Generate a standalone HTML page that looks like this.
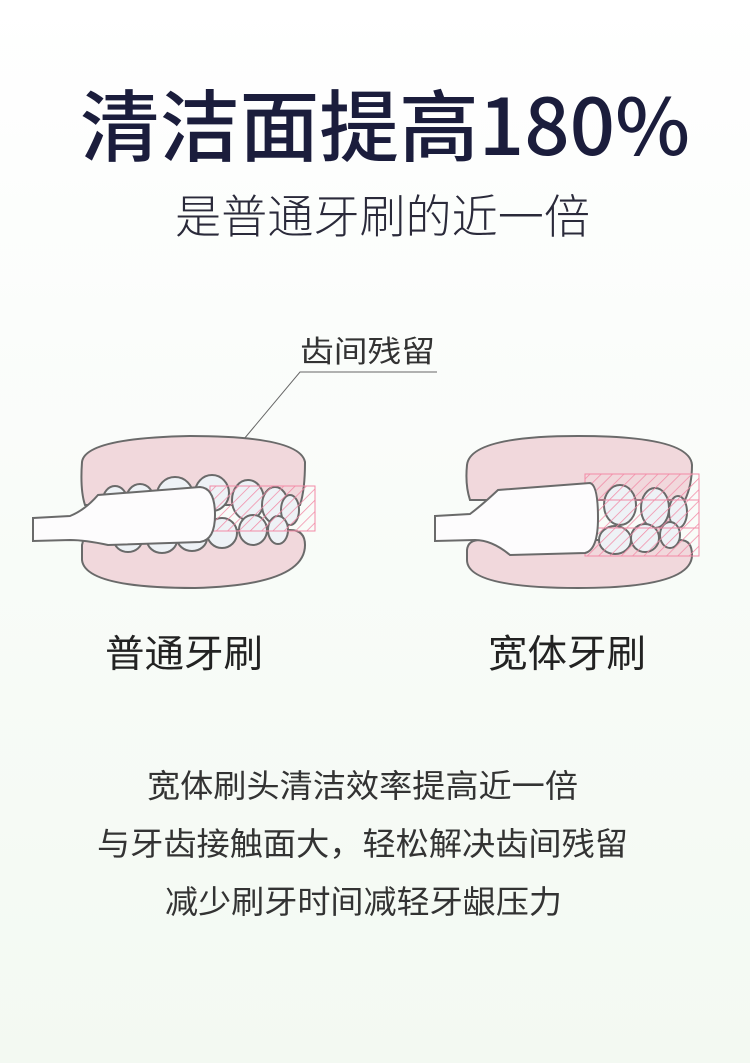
<!DOCTYPE html>
<html><head><meta charset="utf-8"><style>
html,body{margin:0;padding:0;}
body{width:750px;height:1063px;overflow:hidden;background:linear-gradient(#ffffff 0%,#fbfdfb 30%,#f3f9f2 100%);}
svg{display:block}
text{font-family:"Liberation Sans","Noto Sans CJK SC",sans-serif;}
</style></head><body>
<svg width="750" height="1063" viewBox="0 0 750 1063" xmlns="http://www.w3.org/2000/svg">
<defs>
<pattern id="h" width="8" height="8" patternUnits="userSpaceOnUse" patternTransform="rotate(45)">
<line x1="0" y1="0" x2="0" y2="8" stroke="#f28aa6" stroke-width="1.5"/>
</pattern>
</defs>
<text x="80" y="155" font-size="78" font-weight="500" fill="#1b1d3c" textLength="610" lengthAdjust="spacingAndGlyphs" style="font-family:'Noto Sans CJK SC',sans-serif">清洁面提高180%</text>
<text x="175" y="233" font-size="46" fill="#2a2a3a" textLength="415" lengthAdjust="spacingAndGlyphs" style="font-family:'Noto Sans CJK SC',sans-serif;font-weight:300">是普通牙刷的近一倍</text>

<text x="300" y="362" font-size="30" fill="#333" textLength="135" lengthAdjust="spacingAndGlyphs">齿间残留</text>
<polyline points="437,372 300,372 208,482" fill="none" stroke="#666" stroke-width="1"/>

<g stroke="#6a6a6a" stroke-width="2">
<path d="M82,462 Q85,438 190,436 Q300,436 305,462 Q305,490 300,505 L85,505 Q80,490 82,462Z" fill="#f1d8dc"/>
<path d="M82,545 Q85,530 100,530 L290,530 Q305,530 305,545 Q305,585 195,588 Q85,588 82,560Z" fill="#f1d8dc"/>
<g fill="#eef2f6">
<ellipse cx="115" cy="500" rx="12" ry="14"/><ellipse cx="140" cy="500" rx="14" ry="16"/>
<ellipse cx="175" cy="495" rx="18" ry="18"/><ellipse cx="212" cy="493" rx="17" ry="18"/>
<ellipse cx="248" cy="500" rx="16" ry="20"/><ellipse cx="275" cy="505" rx="13" ry="18"/>
<ellipse cx="290" cy="510" rx="9" ry="15"/>
<ellipse cx="128" cy="540" rx="14" ry="12"/><ellipse cx="162" cy="540" rx="15" ry="13"/>
<ellipse cx="192" cy="538" rx="15" ry="13"/><ellipse cx="222" cy="533" rx="15" ry="15"/>
<ellipse cx="253" cy="530" rx="14" ry="15"/><ellipse cx="278" cy="530" rx="10" ry="14"/>
</g>
</g>
<rect x="210" y="486" width="105" height="45" fill="url(#h)" stroke="#f28aa6" stroke-width="1"/>
<path d="M33,518 L70,516 Q85,510 98,495 L200,487 Q215,488 215,515 Q215,540 200,542 L108,545 Q85,540 70,540 L33,541Z" fill="#fdfcfd" stroke="#6a6a6a" stroke-width="2"/>

<g stroke="#6a6a6a" stroke-width="2">
<path d="M467,465 Q470,436 578,436 Q690,436 692,465 Q692,485 685,500 L470,500 Q465,485 467,465Z" fill="#f1d8dc"/>
<path d="M467,550 Q468,540 480,540 L680,540 Q692,540 692,555 Q692,588 578,588 Q467,588 467,560Z" fill="#f1d8dc"/>
<g fill="#eef2f6">
<ellipse cx="620" cy="505" rx="16" ry="20"/><ellipse cx="655" cy="508" rx="14" ry="20"/>
<ellipse cx="678" cy="512" rx="9" ry="16"/>
<ellipse cx="615" cy="540" rx="16" ry="14"/><ellipse cx="645" cy="538" rx="14" ry="14"/><ellipse cx="670" cy="535" rx="10" ry="13"/>
</g>
</g>
<rect x="585" y="474" width="114" height="82" fill="url(#h)" stroke="#f28aa6" stroke-width="1"/>
<line x1="585" y1="500" x2="699" y2="500" stroke="#f28aa6"/><line x1="585" y1="528" x2="699" y2="528" stroke="#f28aa6"/>
<path d="M435,516 L470,514 Q482,505 498,490 L590,483 Q598,485 598,518 Q598,550 585,553 L510,555 Q492,540 475,540 L435,541Z" fill="#fdfcfd" stroke="#6a6a6a" stroke-width="2"/>

<text x="105" y="667" font-size="38" fill="#222" textLength="158" lengthAdjust="spacingAndGlyphs">普通牙刷</text>
<text x="488" y="667" font-size="38" fill="#222" textLength="158" lengthAdjust="spacingAndGlyphs">宽体牙刷</text>

<text x="147" y="797" font-size="32" fill="#333" textLength="431" lengthAdjust="spacingAndGlyphs">宽体刷头清洁效率提高近一倍</text>
<text x="97" y="855" font-size="32" fill="#333" textLength="531" lengthAdjust="spacingAndGlyphs">与牙齿接触面大，轻松解决齿间残留</text>
<text x="165" y="913" font-size="32" fill="#333" textLength="397" lengthAdjust="spacingAndGlyphs">减少刷牙时间减轻牙龈压力</text>
</svg>
</body></html>
